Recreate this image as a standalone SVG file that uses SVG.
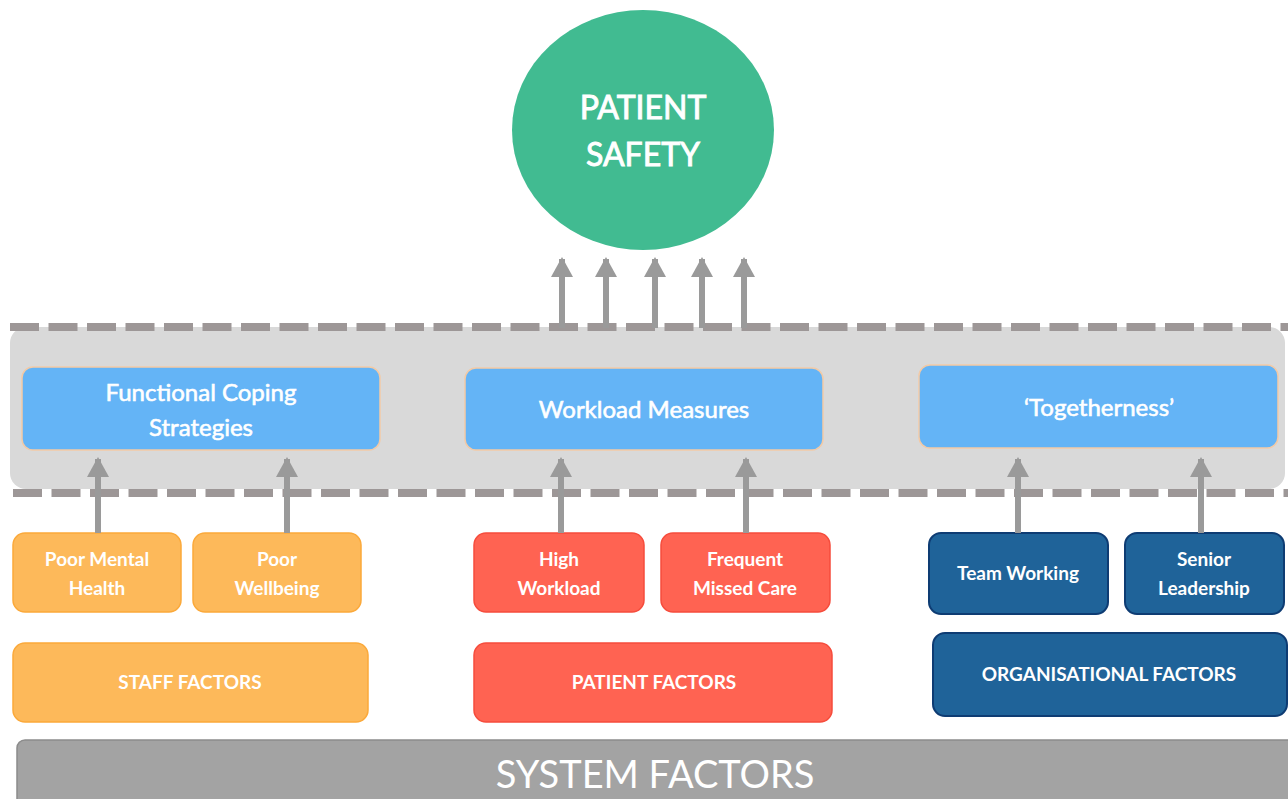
<svg xmlns="http://www.w3.org/2000/svg" width="1288" height="799" viewBox="0 0 1288 799">
  <defs>
    <marker id="head" markerUnits="userSpaceOnUse" markerWidth="20" markerHeight="22" refX="18" refY="11" orient="auto" viewBox="0 0 20 22">
      <path d="M0,0 L20,11 L0,22 Z" fill="#9a9a9a"/>
    </marker>
  </defs>
  <style>
    text { font-family: Lato, "Open Sans", "Liberation Sans", sans-serif; fill: #ffffff; text-anchor: middle; }
    .mid { fill: #64b4f6; stroke: #f3caa6; stroke-width: 1.5; }
    .midtxt { font-size: 24px; stroke: #ffffff; stroke-width: 0.6; }
    .staff { fill: #fdb95a; stroke: #fba93a; stroke-width: 1.5; }
    .patient { fill: #ff6352; stroke: #f64c3c; stroke-width: 1.5; }
    .org { fill: #1f6399; stroke: #0e3c73; stroke-width: 2; }
    .small { font-size: 19px; font-weight: bold; }
    .cat { font-size: 19px; font-weight: bold; }
    .dash { stroke: #9d9797; stroke-width: 8; stroke-dasharray: 29 9.5; fill: none; }
    .arrow { stroke: #9a9a9a; stroke-width: 6; fill: none; marker-end: url(#head); }
  </style>

  <rect width="1288" height="799" fill="#ffffff"/>

  <!-- outcome -->
  <g id="patient-safety">
    <ellipse cx="643" cy="130" rx="131" ry="120" fill="#41bb91"/>
    <text x="643" y="119" font-size="32" stroke="#ffffff" stroke-width="0.9">PATIENT</text>
    <text x="643" y="166" font-size="32" stroke="#ffffff" stroke-width="0.9">SAFETY</text>
  </g>

  <!-- mediating band -->
  <g id="mediator-band">
    <rect x="10" y="327" width="1275" height="162" rx="16" fill="#d9d9d9"/>
    <line class="dash" x1="10" y1="327" x2="1288" y2="327"/>
    <line class="dash" x1="13" y1="493" x2="1288" y2="493"/>
  </g>

  <g id="functional-coping">
    <rect class="mid" x="22" y="367" width="358" height="83" rx="11"/>
    <text class="midtxt" x="201" y="401">Functional Coping</text>
    <text class="midtxt" x="201" y="436">Strategies</text>
  </g>
  <g id="workload-measures">
    <rect class="mid" x="465" y="368" width="358" height="82" rx="11"/>
    <text class="midtxt" x="644" y="418">Workload Measures</text>
  </g>
  <g id="togetherness">
    <rect class="mid" x="919" y="365" width="359" height="83" rx="11"/>
    <text class="midtxt" x="1099" y="416">‘Togetherness’</text>
  </g>

  <!-- staff factors -->
  <g id="poor-mental-health">
    <rect class="staff" x="13" y="533" width="168" height="79" rx="12"/>
    <text class="small" x="97" y="566">Poor Mental</text>
    <text class="small" x="97" y="595">Health</text>
  </g>
  <g id="poor-wellbeing">
    <rect class="staff" x="193" y="533" width="168" height="79" rx="12"/>
    <text class="small" x="277" y="566">Poor</text>
    <text class="small" x="277" y="595">Wellbeing</text>
  </g>
  <g id="staff-factors">
    <rect class="staff" x="13" y="643" width="355" height="79" rx="12"/>
    <text class="cat" x="190" y="689">STAFF FACTORS</text>
  </g>

  <!-- patient factors -->
  <g id="high-workload">
    <rect class="patient" x="474" y="533" width="170" height="79" rx="12"/>
    <text class="small" x="559" y="566">High</text>
    <text class="small" x="559" y="595">Workload</text>
  </g>
  <g id="frequent-missed-care">
    <rect class="patient" x="661" y="533" width="169" height="79" rx="12"/>
    <text class="small" x="745" y="566">Frequent</text>
    <text class="small" x="745" y="595">Missed Care</text>
  </g>
  <g id="patient-factors">
    <rect class="patient" x="474" y="643" width="358" height="79" rx="12"/>
    <text class="cat" x="654" y="689">PATIENT FACTORS</text>
  </g>

  <!-- organisational factors -->
  <g id="team-working">
    <rect class="org" x="929" y="533" width="179" height="81" rx="12"/>
    <text class="small" x="1018" y="580" font-weight="normal">Team Working</text>
  </g>
  <g id="senior-leadership">
    <rect class="org" x="1125" y="533" width="159" height="81" rx="12"/>
    <text class="small" x="1204" y="566">Senior</text>
    <text class="small" x="1204" y="595" font-weight="normal">Leadership</text>
  </g>
  <g id="organisational-factors">
    <rect class="org" x="933" y="633" width="354" height="83" rx="12"/>
    <text class="cat" x="1109" y="681">ORGANISATIONAL FACTORS</text>
  </g>

  <!-- base layer -->
  <g id="system-factors">
    <rect x="17" y="740" width="1290" height="80" rx="8" fill="#a3a3a3" stroke="#8c8c8c" stroke-width="1.5"/>
    <text x="655" y="788" font-size="38" fill="#f4f4f4">SYSTEM FACTORS</text>
  </g>

  <!-- connectors -->
  <g id="connectors">
    <line class="arrow" x1="98" y1="533" x2="98" y2="459"/>
    <line class="arrow" x1="287" y1="533" x2="287" y2="459"/>
    <line class="arrow" x1="561" y1="533" x2="561" y2="459"/>
    <line class="arrow" x1="746" y1="533" x2="746" y2="459"/>
    <line class="arrow" x1="1018" y1="533" x2="1018" y2="459"/>
    <line class="arrow" x1="1201" y1="533" x2="1201" y2="459"/>
    <line class="arrow" x1="562" y1="328" x2="562" y2="259"/>
    <line class="arrow" x1="606" y1="328" x2="606" y2="259"/>
    <line class="arrow" x1="655" y1="328" x2="655" y2="259"/>
    <line class="arrow" x1="702" y1="328" x2="702" y2="259"/>
    <line class="arrow" x1="744" y1="328" x2="744" y2="259"/>
  </g>
</svg>
